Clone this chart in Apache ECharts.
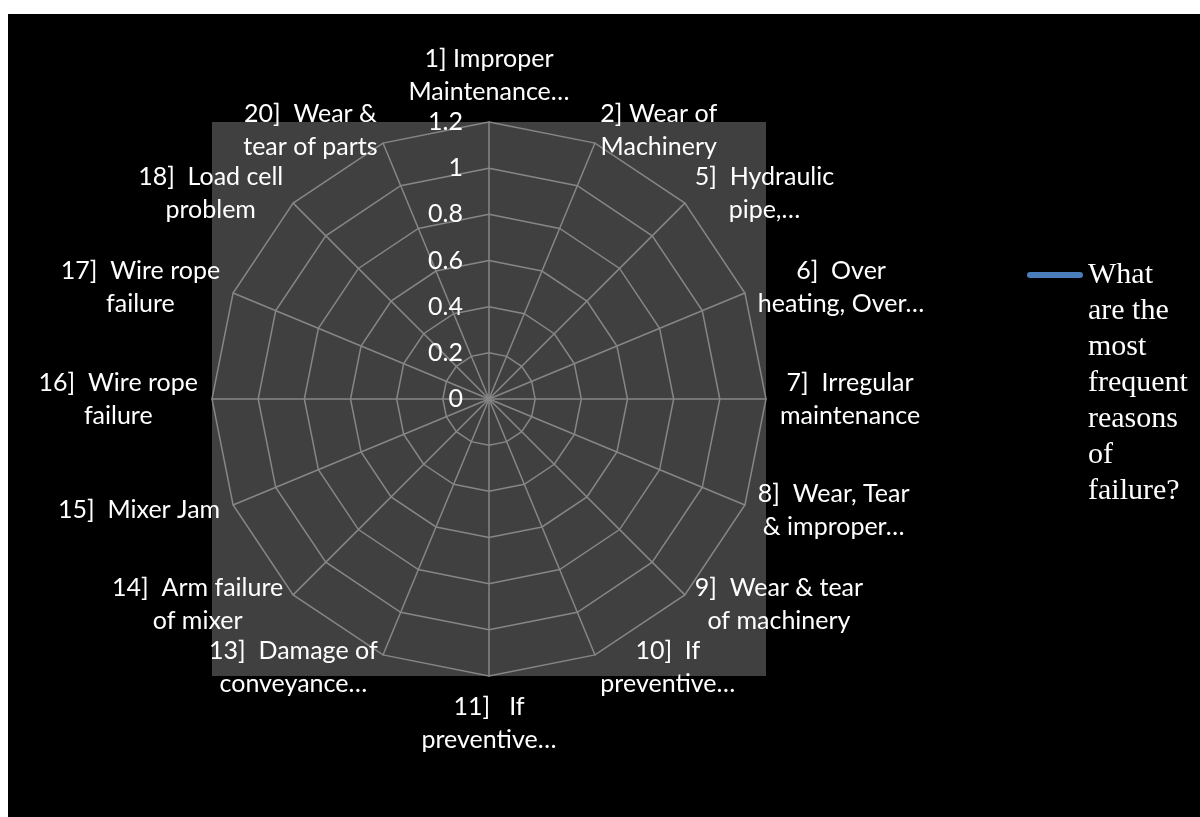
<!DOCTYPE html>
<html>
<head>
<meta charset="utf-8">
<script src="https://cdn.jsdelivr.net/npm/echarts@6/dist/echarts.min.js"></script>
<style>
  html, body { margin: 0; padding: 0; background: #ffffff; }
  #chart { position: absolute; left: 8px; top: 14px; width: 1192px; height: 803px; }
</style>
</head>
<body>
<div id="chart"></div>
<script>
// ---- data (clockwise from top) ----
const categories = [
  "1] Improper\nMaintenance…",
  "2] Wear of\nMachinery",
  "5]  Hydraulic\npipe,…",
  "6]  Over\nheating, Over…",
  "7]  Irregular\nmaintenance",
  "8]  Wear, Tear\n& improper…",
  "9]  Wear & tear\nof machinery",
  "10]  If\npreventive…",
  "11]   If\npreventive…",
  "13]  Damage of\nconveyance…",
  "14]  Arm failure\nof mixer",
  "15]  Mixer Jam",
  "16]  Wire rope\nfailure",
  "17]  Wire rope\nfailure",
  "18]  Load cell\nproblem",
  "20]  Wear &\ntear of parts"
];
const seriesName = "What are the most frequent reasons of failure?";
const seriesValues = [0, 0, 0, 0, 0, 0, 0, 0, 0, 0, 0, 0, 0, 0, 0, 0];
const axisMin = 0;
const axisMax = 1.2;
const axisStep = 0.2;

// ---- layout ----
const CX = 481, CY = 385, R = 277;
const labelFont = 'Lato';
const labelSize = 25;
const gridColor = '#868686';

const chart = echarts.init(document.getElementById('chart'));

// ECharts radar lays indicators out counter-clockwise; reorder to get clockwise placement
function toCCW(arr) { return [arr[0]].concat(arr.slice(1).reverse()); }
const indicator = toCCW(categories).map(n => ({ name: n, min: axisMin, max: axisMax }));
const radarValues = toCCW(seriesValues);

const option = {
  backgroundColor: '#000000',
  animation: false,
  grid: {
    show: true, left: CX - R, top: CY - R, width: 2 * R, height: 2 * R,
    backgroundColor: '#404040', borderWidth: 0
  },
  xAxis: { type: 'value', show: false, gridIndex: 0 },
  yAxis: { type: 'value', show: false, gridIndex: 0 },
  polar: { center: [CX, CY], radius: R },
  angleAxis: { type: 'value', show: false, startAngle: 90, min: 0, max: 360 },
  radiusAxis: {
    type: 'value', min: axisMin, max: axisMax, interval: axisStep,
    axisLine: { show: false }, axisTick: { show: false }, splitLine: { show: false },
    axisLabel: { show: true, color: '#ffffff', fontFamily: labelFont, fontSize: labelSize, margin: 26 },
    z: 5
  },
  radar: {
    center: [CX, CY],
    radius: R,
    startAngle: 90,
    splitNumber: 6,
    shape: 'polygon',
    indicator: indicator,
    axisNameGap: 14,
    axisName: {
      color: '#ffffff',
      fontFamily: labelFont,
      fontSize: labelSize,
      lineHeight: 33,
      formatter: function (name) {
        return name.split('\n').map(l => '{c|' + l + '}').join('\n');
      },
      rich: {
        c: { align: 'center', color: '#ffffff', fontFamily: labelFont, fontSize: labelSize, lineHeight: 33 }
      }
    },
    axisLine: { lineStyle: { color: gridColor, width: 1.5 } },
    splitLine: { lineStyle: { color: gridColor, width: 1.5 } },
    splitArea: { show: false },
    axisLabel: { show: false }
  },
  legend: {
    orient: 'vertical',
    left: 1019,
    top: 243,
    padding: 0,
    itemWidth: 56,
    itemHeight: 250,
    itemGap: 5,
    icon: 'path://M3,14 L53,14 A3,3 0 0 1 53,20 L3,20 A3,3 0 0 1 3,14 Z M0,0 L0.01,0 L0.01,0.01 Z M0,250 L0.01,250 L0.01,249.99 Z',
    data: [seriesName],
    textStyle: {
      color: '#ffffff',
      fontFamily: 'Liberation Serif',
      fontSize: 30,
      lineHeight: 36,
      width: 108,
      overflow: 'break'
    }
  },
  series: [{
    type: 'radar',
    name: seriesName,
    symbol: 'none',
    color: '#4a7ebb',
    lineStyle: { color: '#4a7ebb', width: 3 },
    data: [{ name: seriesName, value: radarValues }]
  }]
};

chart.setOption(option);
</script>
</body>
</html>
